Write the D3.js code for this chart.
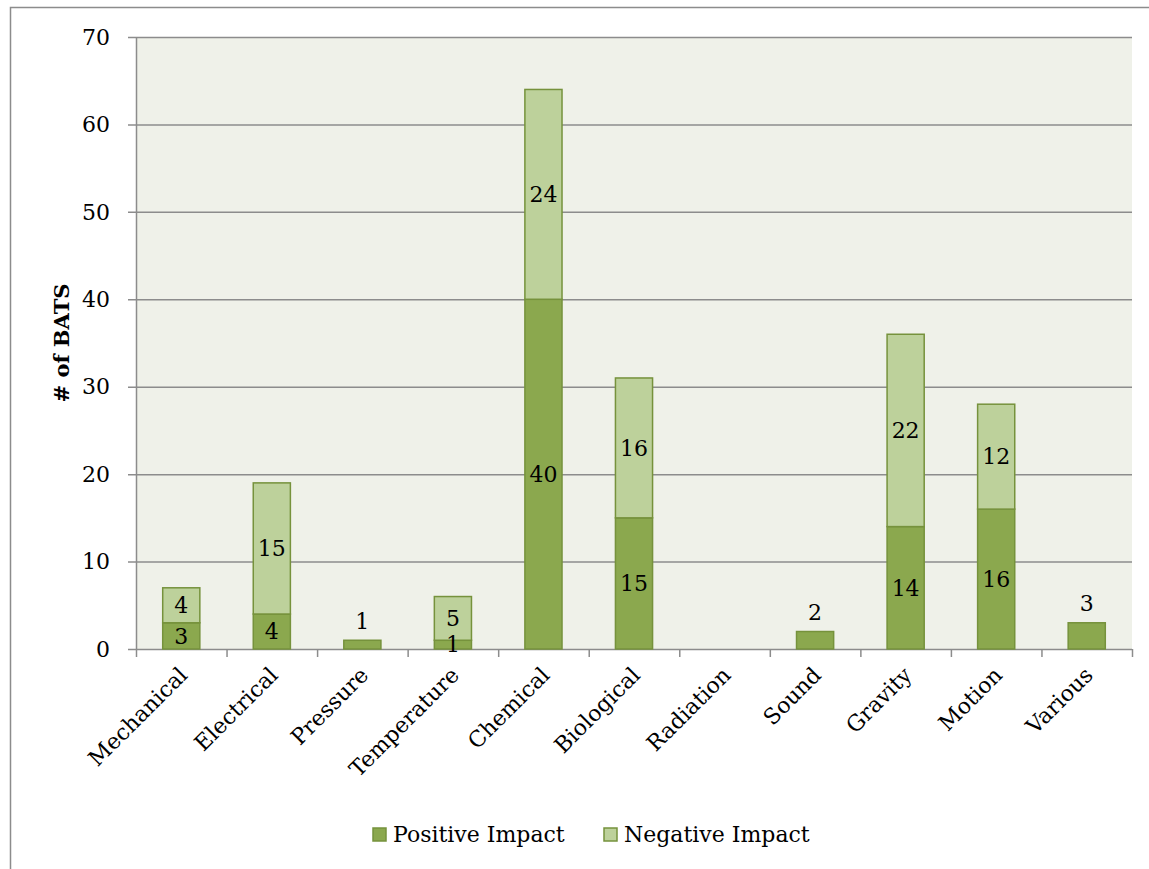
<!DOCTYPE html>
<html><head><meta charset="utf-8">
<script src="https://cdn.jsdelivr.net/npm/d3@7"></script>
<style>body{margin:0;background:#fff}svg{display:block}</style>
</head><body><svg width="1149" height="869"></svg>
<script>
const categories = ["Mechanical","Electrical","Pressure","Temperature","Chemical","Biological","Radiation","Sound","Gravity","Motion","Various"];
const positive = [3,4,1,1,40,15,null,2,14,16,3];
const negative = [4,15,null,5,24,16,null,null,22,12,null];
const seriesNames = ["Positive Impact","Negative Impact"];
const yTicks = [0,10,20,30,40,50,60,70];

const font = "'DejaVu Serif', serif";
const fs = 22;
const svg = d3.select("svg");
const M = {l:136, r:1132, t:37, b:649};
const x = d3.scaleBand().domain(categories).range([M.l, M.r]).paddingInner(0.59).paddingOuter(0.295);
const y = d3.scaleLinear().domain([0,70]).range([M.b, M.t]);
const cPos = "#8BA84E", cNeg = "#BDD19B", stroke = "#76923C";

svg.append("rect").attr("x",10.5).attr("y",7.5).attr("width",1150).attr("height",880)
  .attr("fill","#fff").attr("stroke","#8c8c8c").attr("stroke-width",1.5);
svg.append("rect").attr("x",M.l).attr("y",M.t).attr("width",M.r-M.l).attr("height",M.b-M.t).attr("fill","#EFF1E9");

// gridlines
svg.append("g").selectAll("line").data(yTicks).join("line")
  .attr("x1",M.l-8).attr("x2",M.r).attr("y1",d=>y(d)+0.5).attr("y2",d=>y(d)+0.5)
  .attr("stroke","#8c8c8c").attr("stroke-width",1.5);
svg.append("line").attr("x1",M.l+0.5).attr("x2",M.l+0.5).attr("y1",M.t).attr("y2",M.b)
  .attr("stroke","#8c8c8c").attr("stroke-width",1.5);

// y tick labels
svg.append("g").selectAll("text").data(yTicks).join("text")
  .attr("x",M.l-26).attr("y",d=>y(d)).attr("dy","0.35em").attr("text-anchor","end")
  .attr("font-family",font).attr("font-size",fs).attr("fill","#000").text(d=>d);

// x ticks
const tickXs = d3.range(categories.length+1).map(i=>M.l + i*(M.r-M.l)/categories.length);
svg.append("g").selectAll("line").data(tickXs).join("line")
  .attr("x1",d=>d+0.5).attr("x2",d=>d+0.5).attr("y1",M.b).attr("y2",M.b+8)
  .attr("stroke","#8c8c8c").attr("stroke-width",1.5);

// bars
const data = categories.map((c,i)=>({c, p: positive[i]||0, n: negative[i]||0, pv: positive[i], nv: negative[i]}));
const g = svg.append("g");
data.forEach(d=>{
  const bx = x(d.c), bw = x.bandwidth();
  if (d.p) g.append("rect").attr("x",bx).attr("y",y(d.p)).attr("width",bw).attr("height",y(0)-y(d.p))
    .attr("fill",cPos).attr("stroke",stroke).attr("stroke-width",1.5);
  if (d.n) g.append("rect").attr("x",bx).attr("y",y(d.p+d.n)).attr("width",bw).attr("height",y(d.p)-y(d.p+d.n))
    .attr("fill",cNeg).attr("stroke",stroke).attr("stroke-width",1.5);
});
// labels
const lab = svg.append("g").attr("font-family",font).attr("font-size",fs).attr("text-anchor","middle").attr("fill","#000");
data.forEach(d=>{
  const cx = x(d.c)+x.bandwidth()/2;
  if (d.pv!=null) {
    const yy = d.nv==null ? y(d.p)-19 : (y(0)+y(d.p))/2;
    lab.append("text").attr("x",cx).attr("y",yy).attr("dy","0.35em").text(d.pv);
  }
  if (d.nv!=null) lab.append("text").attr("x",cx).attr("y",(y(d.p)+y(d.p+d.n))/2).attr("dy","0.35em").text(d.nv);
});

// x labels
svg.append("g").selectAll("text").data(categories).join("text")
  .attr("transform",d=>`translate(${x(d)+x.bandwidth()/2+2},${M.b+22}) rotate(-45)`)
  .attr("text-anchor","end").attr("dy","0.35em")
  .attr("font-family",font).attr("font-size",fs).attr("fill","#000").text(d=>d);

// y title
svg.append("text").attr("transform",`translate(62,${(M.t+M.b)/2}) rotate(-90)`)
  .attr("text-anchor","middle").attr("dy","0.35em").attr("font-family",font).attr("font-weight","bold")
  .attr("font-size",21).text("# of BATS");

// legend
const leg = [{n:seriesNames[0],c:cPos,x:373},{n:seriesNames[1],c:cNeg,x:604}];
leg.forEach(l=>{
  svg.append("rect").attr("x",l.x).attr("y",828).attr("width",13).attr("height",13).attr("fill",l.c).attr("stroke",stroke).attr("stroke-width",1.5);
  svg.append("text").attr("x",l.x+20).attr("y",834).attr("dy","0.35em").attr("font-family",font).attr("font-size",fs).text(l.n);
});
</script></body></html>
